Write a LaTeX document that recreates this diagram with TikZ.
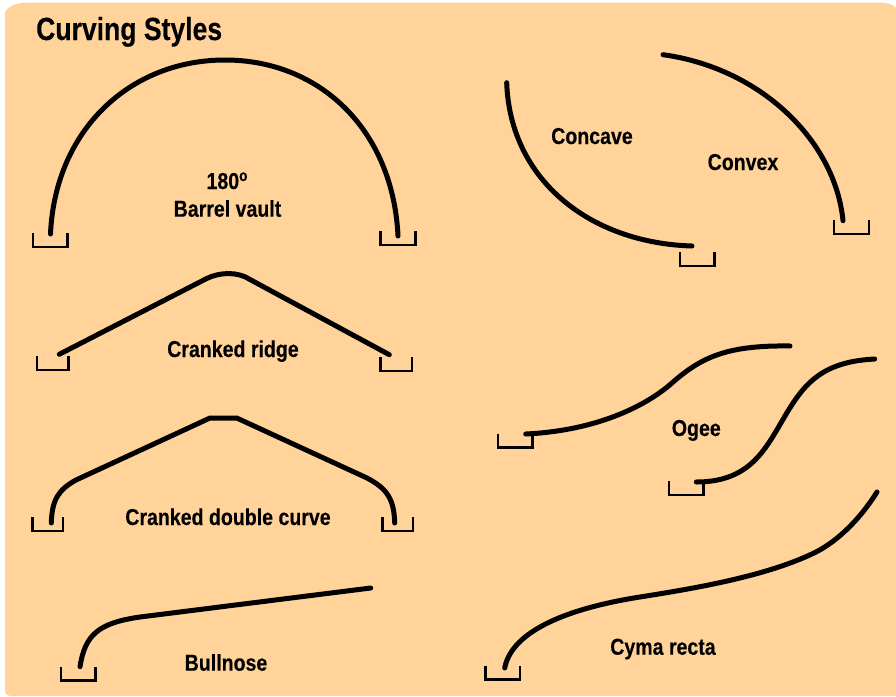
\documentclass[tikz,border=0pt]{standalone}
\usepackage{fontspec}
\setmainfont{Liberation Sans}
\newfontfamily\labfont{Liberation Sans Bold}[FakeStretch=0.85,FakeBold=0.25]
\newfontfamily\ttlfont{Liberation Sans Bold}[FakeStretch=0.83,FakeBold=0.25]
\definecolor{panel}{HTML}{FFD399}
\tikzset{
  x=1pt,y=-1pt,
  curveline/.style={line width=5pt,line cap=round,line join=round,black},
  seat/.style={line width=2.2pt,line cap=butt,line join=miter,black},
  lab/.style={inner sep=0pt,anchor=base,font=\labfont\fontsize{23}{25}\selectfont,text=black},
  ttl/.style={inner sep=0pt,anchor=base west,font=\ttlfont\fontsize{32}{35}\selectfont,text=black}
}
% seat bracket: left x, top y, width
\newcommand{\seatbox}[3]{\draw[seat] (#1,#2) -- (#1,#2+14) -- (#1+#3,#2+14) -- (#1+#3,#2);}
\begin{document}
\begin{tikzpicture}
\useasboundingbox (0,0) rectangle (896,696);
\fill[white] (0,0) rectangle (896,696);
\fill[panel] (5,13) .. controls (7,6) and (17,2.7) .. (27,2.7) -- (881,2.7) .. controls (888,2.7) and (894,5) .. (896,8) -- (896,696) -- (10,696) .. controls (7,695) and (5,694) .. (5,691) -- cycle;
\node[ttl] (title) at (36,40) {Curving Styles};
% Barrel vault
\draw[curveline] (50.5,234) .. controls (55,130) and (130,60) .. (225,60) .. controls (320,60) and (393,130) .. (398,236);
\seatbox{33}{233}{34.5}\seatbox{380.5}{231}{35}
\node[lab] (deg) at (227,189) {180\raisebox{8pt}{\fontsize{16}{16}\selectfont o}};
\node[lab] (barrel) at (227.5,216.7) {Barrel vault};
% Cranked ridge
\draw[curveline] (59.3,354.3) -- (206.7,278.5) .. controls (220,272) and (238,271.5) .. (250,279.5) -- (389.3,354.7);
\seatbox{37}{356}{31.5}\seatbox{380.5}{357}{31.5}
\node[lab] (ridge) at (233,357) {Cranked ridge};
% Cranked double curve
\draw[curveline] (51.3,523) .. controls (52,500) and (58,490) .. (76,480) -- (210,418) -- (236.7,418) -- (367,478) .. controls (388,489) and (394,500) .. (394.7,523);
\seatbox{32.5}{517}{30.5}\seatbox{382.5}{517}{30.5}
\node[lab] (double) at (228,525) {Cranked double curve};
% Bullnose
\draw[curveline] (80,666.7) .. controls (85,635) and (98,623) .. (140,617) -- (370.7,588);
\seatbox{61}{666.5}{34.5}
\node[lab] (bull) at (226,670.7) {Bullnose};
% Concave / Convex
\draw[curveline] (506.7,82.7) .. controls (510,180) and (590,243) .. (692,246);
\seatbox{680}{252}{34.5}
\node[lab] (concave) at (592,144) {Concave};
\draw[curveline] (663,54.7) .. controls (760,68) and (835,140) .. (843,220.7);
\seatbox{834}{220}{35}
\node[lab] (convex) at (743,170) {Convex};
% Ogee
\draw[curveline] (525.7,434) .. controls (590,431) and (640,410) .. (670,384.7) .. controls (700,358) and (725,345) .. (790,346);
\seatbox{498}{433.5}{34.5}
\draw[curveline] (696.3,482) .. controls (745,482) and (762,455) .. (778,428) .. controls (800,390) and (815,362) .. (874.7,359);
\seatbox{669}{481}{34.5}
\node[lab] (ogee) at (696.3,436) {Ogee};
% Cyma recta
\draw[curveline] (504.7,668) .. controls (512,630) and (570,608) .. (640,597) .. controls (690,589) and (765,577) .. (815,552.5) .. controls (840,540) and (862,516) .. (877,492);
\seatbox{485.5}{665.5}{34.5}
\node[lab] (cyma) at (663,654.7) {Cyma recta};
\end{tikzpicture}
\end{document}
